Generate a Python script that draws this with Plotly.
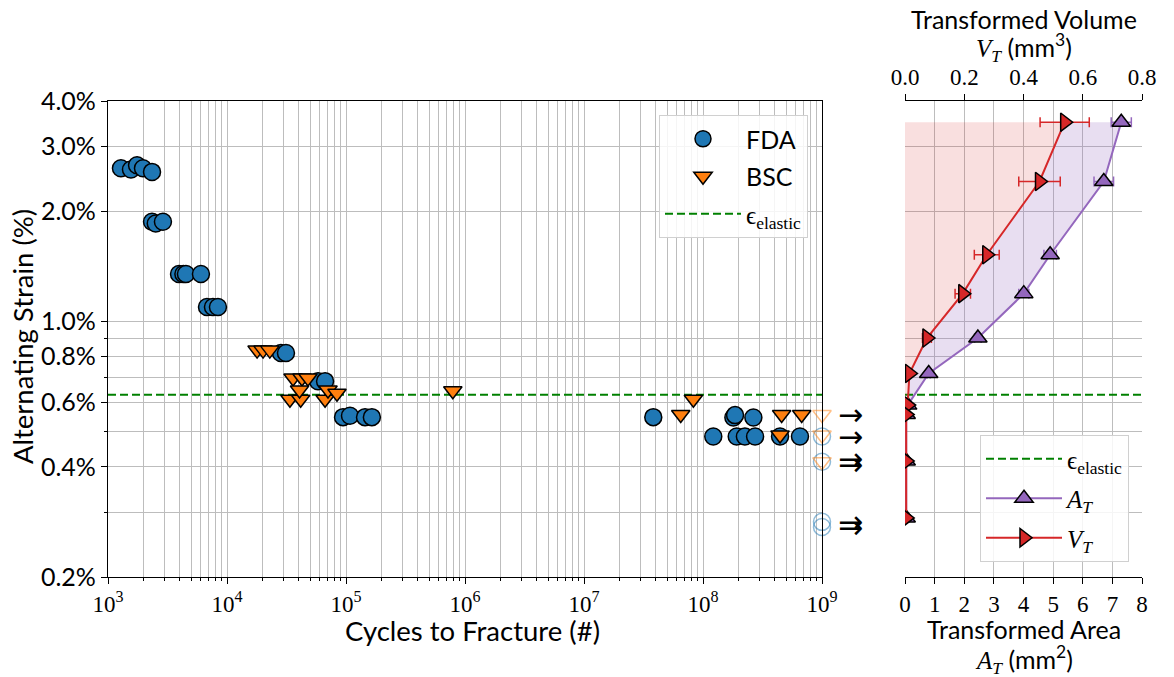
import plotly.graph_objects as go
import numpy as np

# ---------------- data ----------------
fda_cycles = [1285, 1560, 1754, 1968, 2344, 2344, 2520, 2895, 3952, 4300, 4518, 6040,
              6790, 7623, 8395, 28400, 31300, 58200, 66700, 94400, 108000, 144500,
              165000, 3.82e7, 1.22e8, 1.80e8, 1.86e8, 2.65e8, 1.92e8, 2.25e8, 2.74e8,
              4.44e8, 6.53e8]
fda_strain = [2.62, 2.60, 2.67, 2.62, 2.56, 1.87, 1.85, 1.87, 1.346, 1.346, 1.346, 1.346,
              1.094, 1.094, 1.094, 0.819, 0.819, 0.686, 0.686, 0.547, 0.552, 0.547,
              0.547, 0.547, 0.484, 0.546, 0.554, 0.546, 0.484, 0.484, 0.484,
              0.484, 0.484]

bsc_cycles = [17900, 20100, 22900, 35900, 42700, 47900, 33800, 41600, 40700, 66700,
              70600, 84000, 7.9e5, 6.5e7, 8.3e7, 4.58e8, 6.75e8, 4.44e8]
bsc_strain = [0.834, 0.834, 0.834, 0.700, 0.700, 0.700, 0.612, 0.612, 0.649, 0.612,
              0.649, 0.636, 0.646, 0.556, 0.612, 0.556, 0.556, 0.489]

fda_runout_cycles = [1e9, 1e9, 1e9, 1e9]
fda_runout_strain = [0.484, 0.413, 0.283, 0.274]
bsc_runout_cycles = [1e9, 1e9, 1e9]
bsc_runout_strain = [0.556, 0.489, 0.413]

arrow_strain = [0.556, 0.484, 0.413, 0.278]
arrow_count = [1, 1, 2, 2]

elastic_strain = 0.63

# transformed area / volume vs strain
tr_strain = [3.5, 2.41, 1.52, 1.19, 0.90, 0.72, 0.59, 0.556, 0.415, 0.29]
area_T = [7.30, 6.71, 4.90, 4.01, 2.46, 0.80, 0.09, 0.04, 0.04, 0.04]
area_err = [0.34, 0.33, 0.21, 0.17, 0.11, 0.05, 0, 0, 0, 0]
vol_T = [0.539, 0.454, 0.276, 0.195, 0.074, 0.015, 0.009, 0.004, 0.004, 0.004]
vol_err = [0.083, 0.070, 0.042, 0.026, 0.015, 0.004, 0, 0, 0, 0]

y_major_vals = [0.2, 0.4, 0.6, 0.8, 1.0, 2.0, 3.0, 4.0]
y_major_text = ["0.2%", "0.4%", "0.6%", "0.8%", "1.0%", "2.0%", "3.0%", "4.0%"]
y_minor_vals = [0.3, 0.5, 0.7, 0.9]
x_decades = [3, 4, 5, 6, 7, 8, 9]

AREA_RANGE = [0, 8]
VOL_RANGE = [0, 0.8]

# ---------------- styling ----------------
W, H = 1174, 677
OFF = 8  # page body margin
SANS = "Lato, 'DejaVu Sans', sans-serif"
SERIF = "'Liberation Serif', 'DejaVu Serif', serif"
SERIF_SPAN = "<span style=\"font-family:'Liberation Serif','DejaVu Serif',serif\">{}</span>"
BLUE = "#1f77b4"
ORANGE = "#ff7f0e"
PURPLE = "#9467bd"
RED = "#d62728"
GRID = "#bdbdbd"
DASH = "8px,4px"


def px_x(p):
    return (p - OFF) / W


def px_y(p):
    return 1 - (p - OFF) / H


left_dom = [px_x(108), px_x(822)]
right_dom = [px_x(905), px_x(1142)]
y_dom = [px_y(577), px_y(101)]

fig = go.Figure()

# ---- left panel ----
fig.add_trace(go.Scatter(
    x=[10 ** x_decades[0], 10 ** x_decades[-1]], y=[elastic_strain] * 2, mode="lines",
    line=dict(color="green", width=2, dash=DASH),
    xaxis="x", yaxis="y", showlegend=False, hoverinfo="skip"))

fig.add_trace(go.Scatter(
    x=fda_runout_cycles, y=fda_runout_strain, mode="markers",
    marker=dict(symbol="circle-open", size=17, color="rgba(31,119,180,0.5)", line=dict(width=1.5)),
    showlegend=False, cliponaxis=False, xaxis="x", yaxis="y"))
fig.add_trace(go.Scatter(
    x=bsc_runout_cycles, y=bsc_runout_strain, mode="markers",
    marker=dict(symbol="triangle-down-open", size=16, color="rgba(255,127,14,0.5)", line=dict(width=1.5)),
    showlegend=False, cliponaxis=False, xaxis="x", yaxis="y"))

fig.add_trace(go.Scatter(
    x=fda_cycles, y=fda_strain, mode="markers", name="FDA",
    marker=dict(symbol="circle", size=17, color=BLUE, line=dict(color="black", width=1.5)),
    xaxis="x", yaxis="y", legendgroup="a"))
fig.add_trace(go.Scatter(
    x=bsc_cycles, y=bsc_strain, mode="markers", name="BSC",
    marker=dict(symbol="triangle-down", size=16, color=ORANGE, line=dict(color="black", width=1.5)),
    xaxis="x", yaxis="y", legendgroup="b"))

fig.add_trace(go.Scatter(
    x=[None], y=[None], mode="lines",
    line=dict(color="green", width=2, dash=DASH),
    name=SERIF_SPAN.format("ϵ<sub>elastic</sub>"),
    xaxis="x", yaxis="y", legendgroup="c"))

# ---- right panel ----
scale = AREA_RANGE[1] / VOL_RANGE[1]
band_x = [v * scale for v in vol_T] + area_T[::-1]
band_y = tr_strain + tr_strain[::-1]
fig.add_trace(go.Scatter(
    x=band_x, y=band_y, mode="lines", fill="toself", fillcolor="rgba(148,103,189,0.22)",
    line=dict(width=0), showlegend=False, hoverinfo="skip", xaxis="x2", yaxis="y"))

fig.add_trace(go.Scatter(
    x=[AREA_RANGE[0], AREA_RANGE[1]], y=[elastic_strain] * 2, mode="lines",
    line=dict(color="green", width=2, dash=DASH),
    name="ϵ<sub>elastic</sub>", xaxis="x2", yaxis="y", legend="legend2", legendgroup="d"))

fig.add_trace(go.Scatter(
    x=area_T, y=tr_strain, mode="lines+markers", name="<i>A<sub>T</sub></i>",
    line=dict(color=PURPLE, width=2),
    marker=dict(symbol="triangle-up", size=16, color=PURPLE, line=dict(color="black", width=1.5)),
    error_x=dict(type="data", array=area_err, color=PURPLE, thickness=1.5, width=5),
    xaxis="x2", yaxis="y", legend="legend2", legendgroup="e"))

fig.add_trace(go.Scatter(
    x=vol_T, y=tr_strain, mode="lines", fill="tozerox", fillcolor="rgba(214,39,40,0.15)",
    line=dict(width=0), showlegend=False, hoverinfo="skip", xaxis="x3", yaxis="y"))
fig.add_trace(go.Scatter(
    x=vol_T, y=tr_strain, mode="lines+markers", name="<i>V<sub>T</sub></i>",
    line=dict(color=RED, width=2),
    marker=dict(symbol="triangle-right", size=16, color=RED, line=dict(color="black", width=1.5)),
    error_x=dict(type="data", array=vol_err, color=RED, thickness=1.5, width=5),
    xaxis="x3", yaxis="y", legend="legend2", legendgroup="f"))

# ---------------- axes ----------------
minor_x = [m * 10 ** d for d in x_decades[:-1] for m in range(2, 10)]
axis_common = dict(showline=True, linecolor="black", linewidth=1.3, mirror=True,
                   showgrid=True, gridcolor=GRID, gridwidth=1.2, zeroline=False,
                   ticks="outside", tickcolor="black", ticklen=6, tickwidth=1.2,
                   automargin=False)
y_range = [np.log10(y_major_vals[0]), np.log10(y_major_vals[-1])]
y_minor = dict(tickmode="array", tickvals=y_minor_vals, ticks="outside", ticklen=3,
               tickcolor="black", showgrid=True, gridcolor=GRID, gridwidth=1.2)

fig.update_layout(
    width=W, height=H, margin=dict(l=0, r=0, t=0, b=0, autoexpand=False),
    paper_bgcolor="white", plot_bgcolor="white",
    xaxis=dict(**axis_common, type="log", domain=left_dom, range=[x_decades[0], x_decades[-1]],
               tickmode="array", tickvals=[10 ** d for d in x_decades],
               ticktext=[f"10<sup>{d}</sup>" for d in x_decades],
               tickfont=dict(family=SERIF, size=23, color="black"),
               minor=dict(tickmode="array", tickvals=minor_x, ticks="outside", ticklen=3,
                          tickcolor="black", showgrid=True, gridcolor=GRID, gridwidth=1.2),
               anchor="y"),
    yaxis=dict(**axis_common, type="log", domain=y_dom, range=y_range,
               tickmode="array", tickvals=y_major_vals, ticktext=y_major_text,
               tickfont=dict(family=SANS, size=25, color="black"), anchor="x",
               minor=y_minor),
    xaxis2=dict(**axis_common, domain=right_dom, range=AREA_RANGE, dtick=1, tick0=0,
                tickfont=dict(family=SERIF, size=23, color="black"), anchor="y"),
    yaxis2=dict(**axis_common, type="log", domain=y_dom, range=y_range,
                tickmode="array", tickvals=y_major_vals, showticklabels=False,
                anchor="x2", minor=y_minor),
    xaxis3=dict(showline=False, showgrid=False, zeroline=False, overlaying="x2", side="top",
                range=VOL_RANGE, dtick=0.2, tick0=0, tickformat=".1f", anchor="y",
                ticks="outside", tickcolor="black", ticklen=6, tickwidth=1.2, automargin=False,
                tickfont=dict(family=SERIF, size=23, color="black")),
    legend=dict(x=px_x(808), y=px_y(115), xanchor="right", yanchor="top",
                bgcolor="rgba(255,255,255,0.85)", bordercolor="#d0d0d0", borderwidth=1,
                font=dict(family=SANS, size=25, color="black"), tracegroupgap=2,
                itemwidth=76),
    legend2=dict(x=px_x(1129), y=px_y(562), xanchor="right", yanchor="bottom",
                 bgcolor="rgba(255,255,255,0.85)", bordercolor="#d0d0d0", borderwidth=1,
                 font=dict(family=SERIF, size=25, color="black"), tracegroupgap=4,
                 itemwidth=76),
    showlegend=True,
)

# ---------------- text ----------------
ann = []
big_font = dict(family=SANS, size=27.5, color="black")
mid_font = dict(family=SANS, size=25, color="black")


def label(text, x, y, font, angle=0):
    return dict(text=text, x=px_x(x), y=px_y(y), xref="paper", yref="paper",
                xanchor="center", yanchor="middle", textangle=angle,
                showarrow=False, font=font)


ann.append(label("Alternating Strain (%)", 22, 337, big_font, -90))
ann.append(label("Cycles to Fracture (#)", 473, 630, big_font))
ann.append(label("Transformed Volume", 1024, 19, mid_font))
ann.append(label(SERIF_SPAN.format("<i>V<sub>T</sub></i>") + " (mm<sup>3</sup>)", 1024, 47, mid_font))
ann.append(label("Transformed Area", 1024, 629, mid_font))
ann.append(label(SERIF_SPAN.format("<i>A<sub>T</sub></i>") + " (mm<sup>2</sup>)", 1024, 659, mid_font))

for s, n in zip(arrow_strain, arrow_count):
    shifts = [0] if n == 1 else [3, -3]
    for sh in shifts:
        ann.append(dict(text="→", x=1.04, y=np.log10(s), xref="x domain", yref="y",
                        showarrow=False, yshift=sh, xanchor="center", yanchor="middle",
                        font=dict(family="DejaVu Sans", size=30, color="black")))

fig.update_layout(annotations=ann)

fig.write_html("out.html")
